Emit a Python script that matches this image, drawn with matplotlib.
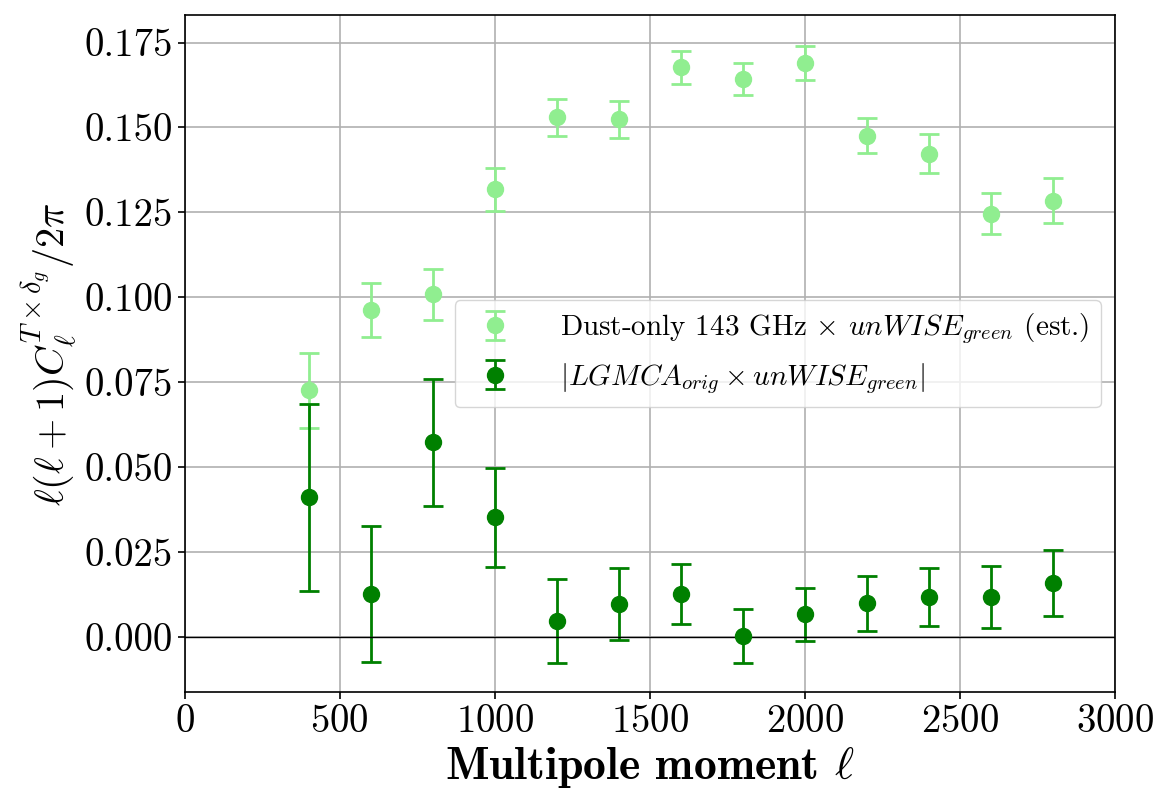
import numpy as np
import matplotlib
matplotlib.use('Agg')
import matplotlib.pyplot as plt

plt.rcParams['mathtext.fontset'] = 'cm'
plt.rcParams['font.family'] = 'serif'
plt.rcParams['font.serif'] = ['cmr10', 'DejaVu Serif']
plt.rcParams['axes.unicode_minus'] = False
plt.rcParams['axes.formatter.use_mathtext'] = True

# multipole bins
ell = [400, 600, 800, 1000, 1200, 1400, 1600, 1800, 2000, 2200, 2400, 2600, 2800]

# dust-only 143 GHz x unWISE green (estimated)
dust = [0.0726, 0.0962, 0.1009, 0.1318, 0.1530, 0.1524, 0.1677, 0.1643, 0.1690,
        0.1476, 0.1423, 0.1246, 0.1284]
dust_err = [0.0110, 0.0080, 0.0075, 0.0063, 0.0055, 0.0055, 0.0048, 0.0047, 0.0049,
            0.0051, 0.0057, 0.0060, 0.0066]

# |LGMCA orig x unWISE green|
lgmca = [0.0411, 0.0126, 0.0573, 0.0352, 0.0047, 0.0097, 0.0126, 0.0002, 0.0067,
         0.0099, 0.0118, 0.0118, 0.0159]
lgmca_err = [0.0275, 0.0200, 0.0187, 0.0147, 0.0124, 0.0106, 0.0089, 0.0079, 0.0078,
             0.0080, 0.0085, 0.0091, 0.0098]

fig = plt.figure(figsize=(11.69, 8.06), dpi=100)
ax = fig.add_axes([0.158, 0.1414, 0.796, 0.8395])

ax.errorbar(ell, dust, yerr=dust_err, fmt='o', color='lightgreen', markersize=11.5,
            elinewidth=2, capsize=7.5, capthick=2,
            label=r'Dust-only 143 GHz $\times$ $unWISE_{green}$ (est.)')
ax.errorbar(ell, lgmca, yerr=lgmca_err, fmt='o', color='green', markersize=11.5,
            elinewidth=2, capsize=7.5, capthick=2,
            label=r'$|LGMCA_{orig} \times unWISE_{green}|$')

ax.axhline(0, color='black', linewidth=1)
ax.set_xlim(0, 3000)
ax.set_ylim(-0.0162, 0.183)
ax.set_yticks(np.arange(0, 0.176, 0.025))
ax.yaxis.set_major_formatter(matplotlib.ticker.FormatStrFormatter('%.3f'))
ax.grid(True, color='#b0b0b0', linewidth=1.2)
ax.set_axisbelow(True)
ax.tick_params(labelsize=28, length=5, width=1.2)
for s in ax.spines.values():
    s.set_linewidth(1.2)

ax.set_xlabel(r'Multipole moment $\boldsymbol{\ell}$', fontsize=33, family='cmb10',
              labelpad=4)
ax.set_ylabel(r'$\ell(\ell+1)C_\ell^{T\times\delta_g}/2\pi$', fontsize=29)

ax.legend(loc='center right', fontsize=21, handletextpad=1.2)

fig.savefig('out.png', dpi=100)
